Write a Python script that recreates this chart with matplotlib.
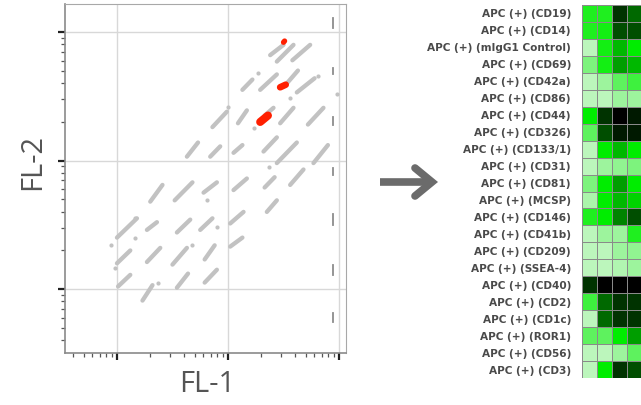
import numpy as np
import matplotlib
matplotlib.use("Agg")
import matplotlib.pyplot as plt
from matplotlib.colors import LinearSegmentedColormap
from matplotlib.lines import Line2D

# ---- scatter data (log10 of FL-1 / FL-2), each streak is start -> end
streak_x0 = [2.38, 2.44, 2.58, 2.13, 2.29, 2.53, 2.62, 1.86, 2.09, 2.33, 2.47, 2.72, 1.63,
             1.84, 2.05, 2.32, 2.44, 2.77, 1.30, 1.52, 1.78, 2.05, 2.33, 2.56, 2.35, 2.02,
             2.02, 1.00, 1.27, 1.54, 1.75, 1.00, 1.27, 1.50, 1.79, 1.01, 1.23, 1.54, 1.79]
streak_y0 = [2.82, 2.77, 2.78, 2.55, 2.55, 2.60, 2.53, 2.26, 2.29, 2.35, 2.29, 2.28, 2.03,
             2.03, 2.06, 2.07, 1.98, 1.98, 1.68, 1.69, 1.75, 1.77, 1.79, 1.81, 1.60, 1.33,
             1.51, 1.40, 1.46, 1.44, 1.46, 1.20, 1.21, 1.19, 1.23, 1.02, 0.91, 1.01, 1.05]
streak_x1 = [2.50, 2.59, 2.74, 2.22, 2.44, 2.63, 2.78, 1.99, 2.17, 2.41, 2.59, 2.86, 1.73,
             1.93, 2.13, 2.44, 2.62, 2.90, 1.41, 1.68, 1.90, 2.17, 2.42, 2.68, 2.44, 2.13,
             2.14, 1.18, 1.36, 1.66, 1.86, 1.12, 1.39, 1.63, 1.88, 1.12, 1.32, 1.64, 1.90]
streak_y1 = [2.90, 2.90, 2.90, 2.63, 2.67, 2.70, 2.64, 2.38, 2.39, 2.41, 2.41, 2.41, 2.14,
             2.11, 2.12, 2.18, 2.14, 2.12, 1.81, 1.83, 1.83, 1.86, 1.87, 1.93, 1.69, 1.40,
             1.60, 1.55, 1.52, 1.54, 1.55, 1.30, 1.32, 1.32, 1.34, 1.11, 1.03, 1.12, 1.15]

dot_x = [2.27, 2.56, 2.81, 2.98, 3.13, 2.00, 2.23, 2.37, 1.81, 1.90, 0.95, 1.16, 1.16, 0.98, 1.68, 1.37]
dot_y = [2.68, 2.49, 2.66, 2.52, 2.42, 2.42, 2.25, 1.95, 1.69, 1.48, 1.34, 1.40, 1.55, 1.16, 1.34, 1.05]

# gated events (red)
red_x0 = [2.50, 2.47, 2.29]
red_y0 = [2.92, 2.57, 2.30]
red_x1 = [2.51, 2.52, 2.36]
red_y1 = [2.93, 2.59, 2.35]

# out-of-range events stacked at the right edge
edge_x = 2.95
edge_y0 = [3.03, 2.67, 2.28, 1.89, 1.50, 1.11, 0.74]
edge_y1 = [3.11, 2.72, 2.34, 1.94, 1.58, 1.19, 0.81]

# ---- heatmap data (0 = pale, 8 = black)
markers = ["CD19", "CD14", "mIgG1 Control", "CD69", "CD42a", "CD86", "CD44", "CD326",
           "CD133/1", "CD31", "CD81", "MCSP", "CD146", "CD41b", "CD209", "SSEA-4",
           "CD40", "CD2", "CD1c", "ROR1", "CD56", "CD3"]
heat = [
    [3.0, 3.0, 7.0, 6.0],
    [3.0, 3.2, 6.5, 6.5],
    [0.5, 3.2, 4.5, 3.5],
    [1.5, 3.2, 5.0, 4.5],
    [0.5, 1.0, 2.0, 2.5],
    [0.5, 0.5, 1.0, 1.0],
    [3.5, 7.0, 8.0, 7.5],
    [2.0, 6.5, 7.5, 7.5],
    [0.5, 3.5, 4.5, 3.5],
    [0.5, 1.0, 1.2, 1.5],
    [1.5, 3.5, 5.0, 3.5],
    [0.8, 3.5, 4.5, 4.0],
    [3.0, 3.5, 5.5, 6.5],
    [0.5, 1.0, 1.0, 3.0],
    [0.5, 0.5, 1.0, 1.2],
    [0.5, 0.5, 0.7, 1.0],
    [7.0, 8.0, 8.0, 8.0],
    [2.5, 6.0, 7.0, 7.0],
    [0.5, 6.0, 7.0, 7.0],
    [2.0, 2.0, 3.5, 5.0],
    [0.5, 0.5, 1.0, 2.0],
    [0.5, 3.5, 7.0, 6.5],
]

W, H = 641, 405
fig = plt.figure(figsize=(W / 100, H / 100), dpi=100)

# ---------------- scatter panel
ax = fig.add_axes([65 / W, 1 - 353 / H, 281 / W, 349 / H])
ax.set_xscale("log")
ax.set_yscale("log")
ax.set_xlim(10 ** 0.532, 10 ** 3.063)
ax.set_ylim(10 ** 0.502, 10 ** 3.218)

for v in [1e1, 1e2, 1e3]:
    ax.axvline(v, color="#d8d8d8", lw=1, zorder=0)
    ax.axhline(v, color="#d8d8d8", lw=1, zorder=0)

for x0, y0, x1, y1 in zip(streak_x0, streak_y0, streak_x1, streak_y1):
    ax.plot([10 ** x0, 10 ** x1], [10 ** y0, 10 ** y1], color="#c2c2c2", lw=3.1,
            solid_capstyle="round", zorder=2)
ax.plot(10 ** np.array(dot_x), 10 ** np.array(dot_y), "o", color="#c2c2c2", ms=3.0,
        mec="none", zorder=2)
for y0, y1 in zip(edge_y0, edge_y1):
    ax.plot([10 ** edge_x] * 2, [10 ** y0, 10 ** y1], color="#8c8c8c", lw=1.3, zorder=2)
for x0, y0, x1, y1, w in zip(red_x0, red_y0, red_x1, red_y1, [3.8, 4.8, 5.8]):
    ax.plot([10 ** x0, 10 ** x1], [10 ** y0, 10 ** y1], color="#ff1f00", lw=w,
            solid_capstyle="round", zorder=3)

for side in ["top", "right"]:
    ax.spines[side].set_color("#a8a8a8")
for side in ["left", "bottom"]:
    ax.spines[side].set_color("#8a8a8a")
    ax.spines[side].set_linewidth(1.2)
ax.tick_params(which="major", direction="out", length=5, width=1.6, color="#222222",
               labelbottom=False, labelleft=False)
ax.tick_params(which="minor", direction="out", length=3, width=0.9, color="#555555",
               labelbottom=False, labelleft=False)

fig.text(33 / W, 1 - 162 / H, "FL-2", rotation=90, ha="center", va="center",
         fontsize=21, color="#555555", family="Open Sans")
fig.text(207 / W, 1 - 385 / H, "FL-1", ha="center", va="center",
         fontsize=21, color="#555555", family="Open Sans")

# ---------------- arrow
arrow_col = "#6b6b6b"
fig.add_artist(Line2D([380 / W, 431 / W], [1 - 182 / H, 1 - 182 / H], color=arrow_col,
                      lw=5.5, solid_capstyle="butt"))
fig.add_artist(Line2D([415 / W, 432 / W, 415 / W],
                      [1 - 168 / H, 1 - 182 / H, 1 - 196 / H], color=arrow_col,
                      lw=5.5, solid_capstyle="round", solid_joinstyle="miter"))

# ---------------- heatmap panel
cmap = LinearSegmentedColormap.from_list(
    "gr", [(0.0, "#dcf7dc"), (3.5 / 8, "#00ee00"), (1.0, "#000000")])
hx = fig.add_axes([582 / W, 1 - 378 / H, 60 / W, 373 / H])
hx.pcolormesh(np.array(heat), cmap=cmap, vmin=0, vmax=8, edgecolors="#8a8a8a",
              linewidth=0.7)
hx.set_xlim(0, 4)
hx.set_ylim(len(markers), 0)
hx.set_xticks([])
hx.set_yticks(np.arange(len(markers)) + 0.5)
hx.set_yticklabels(["APC (+) (%s)" % m for m in markers], fontsize=7.6,
                   fontweight="bold", color="#4a4a4a")
hx.tick_params(axis="y", length=0, pad=8)
for s in hx.spines.values():
    s.set_visible(False)

fig.savefig("out.png", dpi=100)
